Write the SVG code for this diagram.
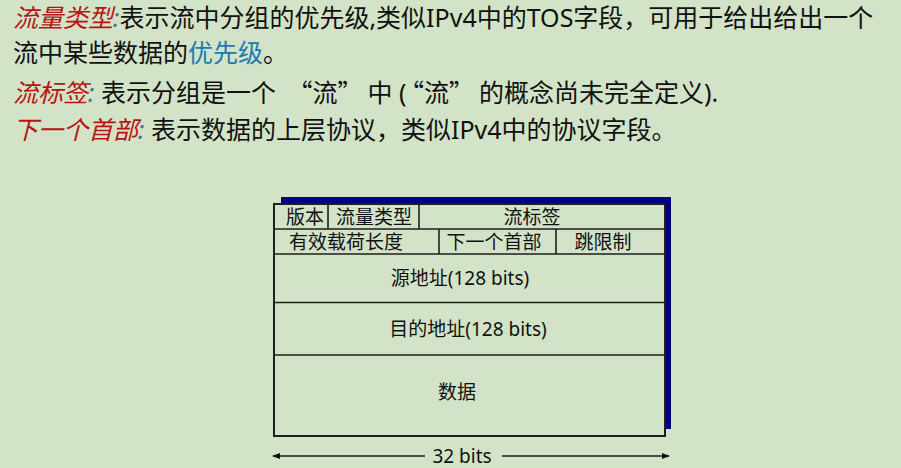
<svg xmlns="http://www.w3.org/2000/svg" width="901" height="468" viewBox="0 0 901 468">
<style>
text{font-family:"Noto Sans","Noto Sans CJK SC",sans-serif;fill:#111;}
.top{font-size:25px;}
.red{fill:#b81414;font-style:italic;}
.colon{fill:#4f6f8f;font-style:italic;}
.blue{fill:#1c7ab5;}
.cjk{font-family:"Noto Sans CJK SC",sans-serif;}
.lbl{font-size:19px;text-anchor:middle;}
.frame{fill:#d2e3c7;stroke:#1e1e1e;stroke-width:2;}
.ln{stroke:#1e1e1e;stroke-width:1.6;fill:none;}
.arr{stroke:#1e1e1e;stroke-width:1.3;fill:none;}
</style>
<defs>
<marker id="ah" viewBox="0 0 10 10" refX="9" refY="5" markerWidth="8" markerHeight="8" markerUnits="userSpaceOnUse" orient="auto">
<path d="M0,1 L10,5 L0,9 Z" fill="#111"/>
</marker>
</defs>
<rect x="0" y="0" width="901" height="468" fill="#d2e3c7"/>
<g id="description">
<text class="top" x="13" y="27"><tspan class="red">流量类型</tspan><tspan class="colon">:</tspan>表示流中分组的优先级,类似IPv4中的TOS字段，可用于给出给出一个</text>
<text class="top" x="13" y="62">流中某些数据的<tspan class="blue">优先级</tspan>。</text>
<text class="top" x="13" y="102"><tspan class="red">流标签</tspan><tspan class="colon">:</tspan> 表示分组是一个 <tspan class="cjk" dx="5">“</tspan>流<tspan class="cjk">”</tspan><tspan dx="5">中 (</tspan><tspan class="cjk" dx="5">“</tspan>流<tspan class="cjk">”</tspan><tspan dx="5">的概念尚未完全定义).</tspan></text>
<text class="top" x="13" y="139"><tspan class="red">下一个首部</tspan><tspan class="colon">:</tspan> 表示数据的上层协议，类似IPv4中的协议字段。</text>
</g>
<g id="header">
<rect x="281" y="197" width="390" height="232" fill="#000080"/>
<rect class="frame" x="274" y="204" width="391" height="232"/>
</g>
<g id="row1">
<line class="ln" x1="274" y1="229" x2="665" y2="229"/>
<line class="ln" x1="328" y1="204" x2="328" y2="229"/>
<line class="ln" x1="419" y1="204" x2="419" y2="229"/>
</g>
<g id="field-version"><text class="lbl" x="305" y="223.5">版本</text></g>
<g id="field-traffic-class"><text class="lbl" x="374" y="223.5">流量类型</text></g>
<g id="field-flow-label"><text class="lbl" x="532" y="223.5">流标签</text></g>
<g id="row2">
<line class="ln" x1="274" y1="254" x2="665" y2="254"/>
<line class="ln" x1="439" y1="229" x2="439" y2="254"/>
<line class="ln" x1="556" y1="229" x2="556" y2="254"/>
</g>
<g id="field-payload-length"><text class="lbl" x="346" y="248.5">有效载荷长度</text></g>
<g id="field-next-header"><text class="lbl" x="494" y="248.5">下一个首部</text></g>
<g id="field-hop-limit"><text class="lbl" x="603" y="248.5">跳限制</text></g>
<g id="field-source">
<line class="ln" x1="274" y1="302.5" x2="665" y2="302.5"/>
<text class="lbl" x="460" y="285">源地址(128 bits)</text>
</g>
<g id="field-destination">
<line class="ln" x1="274" y1="355" x2="665" y2="355"/>
<text class="lbl" x="468" y="336">目的地址(128 bits)</text>
</g>
<g id="field-data">
<text class="lbl" x="457" y="399">数据</text>
</g>
<g id="connectors">
<line class="arr" x1="425" y1="456" x2="273" y2="456" marker-end="url(#ah)"/>
<line class="arr" x1="502" y1="456" x2="669" y2="456" marker-end="url(#ah)"/>
</g>
<g id="width-label"><text class="lbl" x="462" y="463">32 bits</text></g>
</svg>
